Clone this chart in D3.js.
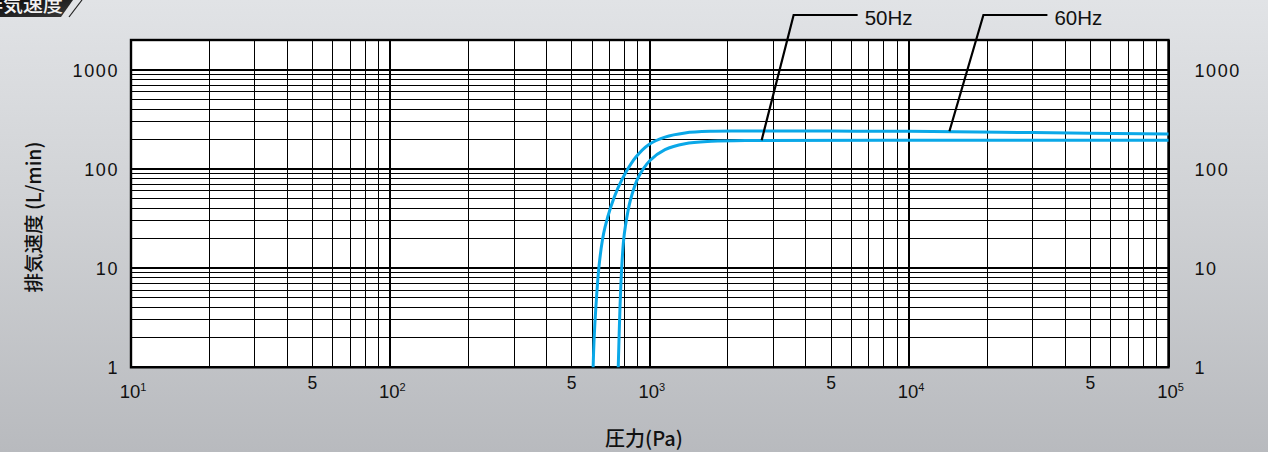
<!DOCTYPE html>
<html>
<head>
<meta charset="utf-8">
<script src="https://cdn.jsdelivr.net/npm/d3@7"></script>
<style>
  html, body { margin: 0; padding: 0; background: #c9cbce; }
  svg { display: block; }
  text { font-family: "Liberation Sans", Arial, Helvetica, sans-serif; fill: #111; }
  .cjk { font-family: "Noto Sans CJK JP", "Noto Sans", sans-serif; font-weight: 500; }
</style>
</head>
<body>
<script>
// Pumping speed curves (L/min) against inlet pressure (Pa)
const pressure60 = [605, 610, 620, 637, 657, 673, 708, 753, 811, 886, 987, 1145, 1367, 1733, 2500, 5000, 10000, 30000, 100000];
const speed60    = [1, 1.89, 4.09, 10.3, 19.2, 26.2, 41.7, 63.9, 93.9, 133, 175, 210, 231, 240, 241, 241, 240, 233, 225];

const pressure50 = [756, 768, 780, 793, 805, 842, 905, 1002, 1145, 1367, 1733, 2500, 10000, 100000];
const speed50    = [1, 4.09, 10.3, 19.2, 26.2, 48.4, 83, 122, 157, 180, 190, 194, 195, 195];

const seriesNames = ["50Hz", "60Hz"];
// points on each curve where the callout leaders touch
const calloutPressure = [2700, 14300];
const calloutSpeed    = [195, 240];

const xDecades     = [10, 100, 1000, 10000, 100000];
const xDecadeExp   = ["1", "2", "3", "4", "5"];
const xFives       = [50, 500, 5000, 50000];
const yTicks       = [1, 10, 100, 1000];
const yTickLabels  = ["1", "10", "100", "1000"];

const xTitle = "圧力(Pa)";
const yTitle = "排気速度 (L/min)";
const headerText = "排気速度";

const W = 1268, H = 452;
const svg = d3.select("body").append("svg").attr("width", W).attr("height", H);
const defs = svg.append("defs");

// brushed-metal grey background
const bg = defs.append("linearGradient").attr("id", "bg").attr("x1", 0).attr("y1", 0).attr("x2", 0).attr("y2", 1);
bg.append("stop").attr("offset", 0).attr("stop-color", "#e1e3e6");
bg.append("stop").attr("offset", 0.45).attr("stop-color", "#d0d2d5");
bg.append("stop").attr("offset", 1).attr("stop-color", "#b8babe");
svg.append("rect").attr("width", W).attr("height", H).attr("fill", "url(#bg)");

const tab = defs.append("linearGradient").attr("id", "tab").attr("x1", 0).attr("y1", 0).attr("x2", 1).attr("y2", 1);
tab.append("stop").attr("offset", 0).attr("stop-color", "#0c0c0c");
tab.append("stop").attr("offset", 1).attr("stop-color", "#3a3a3a");

// header tab
svg.append("path").attr("d", "M0,0 L73,0 L61,17 L0,17 Z").attr("fill", "url(#tab)");
svg.append("line").attr("x1", 82).attr("y1", 0).attr("x2", 69).attr("y2", 17)
  .attr("stroke", "#222").attr("stroke-width", 1.2);
svg.append("text").attr("class", "cjk").attr("x", 63).attr("y", 12)
  .attr("text-anchor", "end").attr("font-size", 20).attr("font-weight", 700)
  .style("fill", "#f2f2f2").text(headerText);

const plotL = 131, plotR = 1168.5, plotT = 40, plotB = 367.3;
const x = d3.scaleLog().domain([10, 100000]).range([plotL, plotR]);
const y = d3.scaleLog().domain([1, 2000]).range([plotB, plotT]);

// plot face
svg.append("rect").attr("x", plotL).attr("y", plotT).attr("width", plotR - plotL).attr("height", plotB - plotT)
  .attr("fill", "#fff");

const grid = svg.append("g");
const isDecade = v => Math.abs(Math.log10(v) - Math.round(Math.log10(v))) < 1e-9;

// vertical grid
grid.selectAll("line.vx").data(x.ticks()).join("line")
  .attr("x1", d => x(d)).attr("x2", d => x(d))
  .attr("y1", plotT).attr("y2", plotB)
  .attr("stroke", "#000").attr("stroke-width", d => isDecade(d) ? 2 : 1)
  .attr("shape-rendering", "crispEdges");

// horizontal grid (up to 1000)
grid.selectAll("line.hy").data(y.ticks().filter(v => v <= 1000)).join("line")
  .attr("x1", plotL).attr("x2", plotR)
  .attr("y1", d => y(d)).attr("y2", d => y(d))
  .attr("stroke", "#000").attr("stroke-width", d => isDecade(d) ? 2 : 1)
  .attr("shape-rendering", "crispEdges");

// frame
svg.append("rect").attr("x", plotL).attr("y", plotT).attr("width", plotR - plotL).attr("height", plotB - plotT)
  .attr("fill", "none").attr("stroke", "#000").attr("stroke-width", 2.4);

// curves
const line = d3.line().x(d => x(d[0])).y(d => y(d[1])).curve(d3.curveCatmullRom.alpha(0.5));
const curves = [d3.zip(pressure50, speed50), d3.zip(pressure60, speed60)];
svg.append("g").selectAll("path").data(curves).join("path")
  .attr("d", line).attr("fill", "none")
  .attr("stroke", "#0aa8e8").attr("stroke-width", 3)
  .attr("stroke-linejoin", "round");

// callouts
const callouts = svg.append("g");
seriesNames.forEach((name, i) => {
  const px = x(calloutPressure[i]), py = y(calloutSpeed[i]);
  const ex = px + 32 + i * 2, ey = 15;
  callouts.append("path")
    .attr("d", `M${px},${py} L${ex},${ey} L${ex + 64},${ey}`)
    .attr("fill", "none").attr("stroke", "#000").attr("stroke-width", 2.2);
  callouts.append("text").attr("x", ex + 71).attr("y", 24.5)
    .attr("font-size", 20.5).text(name);
});

// y axis labels, both sides
const yFmt = d => yTickLabels[yTicks.indexOf(d)];
const yl = svg.append("g").attr("transform", `translate(${plotL - 12},0)`)
  .call(d3.axisLeft(y).tickValues(yTicks).tickFormat(yFmt).tickSize(0));
const yr = svg.append("g").attr("transform", `translate(${plotR + 26},0)`)
  .call(d3.axisRight(y).tickValues(yTicks).tickFormat(yFmt).tickSize(0));
[yl, yr].forEach(g => {
  g.select(".domain").remove();
  g.selectAll("text").attr("font-size", 18).attr("letter-spacing", "1.6px")
    .attr("font-family", "'Liberation Sans', Arial, sans-serif").style("fill", "#111")
    .attr("dy", "0.36em").attr("x", 0);
});

// x axis: decades as powers of ten, and the "5" marks
const xa = svg.append("g");
xa.selectAll("text.dec").data(xDecades).join("text")
  .attr("x", d => x(d) + 2).attr("y", 398)
  .attr("text-anchor", "middle").attr("font-size", 18.5)
  .each(function (d, i) {
    const t = d3.select(this);
    t.append("tspan").text("10");
    t.append("tspan").attr("font-size", 11).attr("dy", -7).text(xDecadeExp[i]);
  });
xa.selectAll("text.five").data(xFives).join("text")
  .attr("x", d => x(d)).attr("y", 388.5)
  .attr("text-anchor", "middle").attr("font-size", 17.5).text("5");

// axis titles
svg.append("text").attr("class", "cjk")
  .attr("transform", `translate(41,217) rotate(-90)`)
  .attr("text-anchor", "middle").attr("font-size", 19.5).text(yTitle);
svg.append("text").attr("class", "cjk")
  .attr("x", 644).attr("y", 445.5)
  .attr("text-anchor", "middle").attr("font-size", 20).text(xTitle);
</script>
</body>
</html>
